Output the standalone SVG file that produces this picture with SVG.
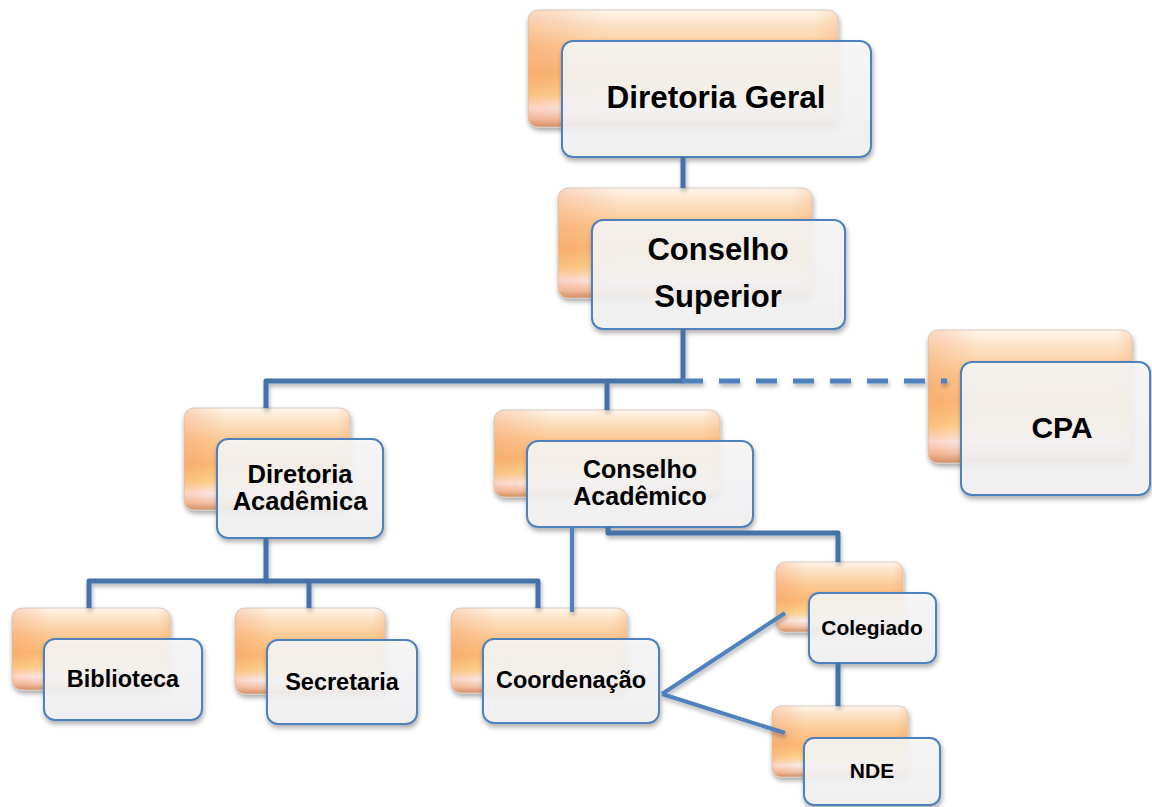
<svg xmlns="http://www.w3.org/2000/svg" width="1152" height="807" viewBox="0 0 1152 807">
  <defs>
    <linearGradient id="og" x1="0" y1="0" x2="0" y2="1">
      <stop offset="0" stop-color="#fef6ee"/>
      <stop offset="0.1" stop-color="#fde6cc"/>
      <stop offset="0.32" stop-color="#fcca96"/>
      <stop offset="0.55" stop-color="#fbbb78"/>
      <stop offset="0.72" stop-color="#fdd590"/>
      <stop offset="0.84" stop-color="#fdeff0"/>
      <stop offset="0.93" stop-color="#f3c6ae"/>
      <stop offset="1" stop-color="#c98e66"/>
    </linearGradient>
    <linearGradient id="oh" x1="0" y1="0" x2="1" y2="0">
      <stop offset="0" stop-color="#f38a50" stop-opacity="0.28"/>
      <stop offset="0.25" stop-color="#f38a50" stop-opacity="0"/>
      <stop offset="0.92" stop-color="#f38a50" stop-opacity="0"/>
      <stop offset="1" stop-color="#e8904e" stop-opacity="0.2"/>
    </linearGradient>
    <linearGradient id="wg" x1="0" y1="0" x2="0" y2="1">
      <stop offset="0" stop-color="#f8f8f8"/>
      <stop offset="1" stop-color="#f2f2f2"/>
    </linearGradient>
    <filter id="sh" x="-20%" y="-20%" width="140%" height="150%">
      <feDropShadow dx="1" dy="3" stdDeviation="2.5" flood-color="#000" flood-opacity="0.35"/>
    </filter>
    <filter id="lsh" x="-10%" y="-50%" width="120%" height="200%">
      <feDropShadow dx="1" dy="3" stdDeviation="2" flood-color="#000" flood-opacity="0.3"/>
    </filter>
  </defs>
  <style>
    .back { fill: url(#og); stroke: #d9ccc2; stroke-width: 1; filter: url(#sh); }
    .tint { fill: url(#oh); stroke: none; }
    .front { fill: url(#wg); fill-opacity: 0.88; stroke: #4f81bd; stroke-width: 2; filter: url(#sh); }
    .t { font-family: "Liberation Sans", Arial, sans-serif; font-weight: bold; fill: #000; text-anchor: middle; }
    .thick { fill: none; stroke: #4472a8; stroke-width: 5; stroke-linejoin: round; }
    .thin { fill: none; stroke: #4f81bd; stroke-width: 4; }
  </style>

  <g id="node-diretoria-geral">
    <rect class="back" x="528" y="10" width="310" height="117" rx="10"/>
    <rect class="tint" x="528" y="10" width="310" height="117" rx="10"/>
    <rect class="front" x="562" y="41" width="309" height="116" rx="11"/>
    <text class="t" x="716" y="108" font-size="31.5">Diretoria Geral</text>
  </g>

  <g id="node-conselho-superior">
    <rect class="back" x="558" y="188" width="254" height="110" rx="10"/>
    <rect class="tint" x="558" y="188" width="254" height="110" rx="10"/>
    <rect class="front" x="592" y="220" width="253" height="109" rx="11"/>
    <text class="t" x="718" y="260" font-size="31">Conselho</text>
    <text class="t" x="718" y="307" font-size="31">Superior</text>
  </g>

  <g id="node-cpa">
    <rect class="back" x="928" y="330" width="204" height="133" rx="10"/>
    <rect class="tint" x="928" y="330" width="204" height="133" rx="10"/>
    <rect class="front" x="961" y="362" width="189" height="133" rx="11"/>
    <text class="t" x="1062" y="438" font-size="30">CPA</text>
  </g>

  <g id="node-diretoria-academica">
    <rect class="back" x="184" y="408" width="166" height="102" rx="10"/>
    <rect class="tint" x="184" y="408" width="166" height="102" rx="10"/>
    <rect class="front" x="217" y="439" width="166" height="99" rx="11"/>
    <text class="t" x="300" y="483" font-size="25.5">Diretoria</text>
    <text class="t" x="300" y="510" font-size="25.5">Acadêmica</text>
  </g>

  <g id="node-conselho-academico">
    <rect class="back" x="494" y="410" width="226" height="87" rx="10"/>
    <rect class="tint" x="494" y="410" width="226" height="87" rx="10"/>
    <rect class="front" x="527" y="441" width="226" height="86" rx="11"/>
    <text class="t" x="640" y="478" font-size="25">Conselho</text>
    <text class="t" x="640" y="505" font-size="25">Acadêmico</text>
  </g>

  <g id="node-biblioteca">
    <rect class="back" x="12" y="608" width="158" height="82" rx="10"/>
    <rect class="tint" x="12" y="608" width="158" height="82" rx="10"/>
    <rect class="front" x="44" y="639" width="158" height="81" rx="11"/>
    <text class="t" x="123" y="687" font-size="23.5">Biblioteca</text>
  </g>

  <g id="node-secretaria">
    <rect class="back" x="235" y="608" width="150" height="86" rx="10"/>
    <rect class="tint" x="235" y="608" width="150" height="86" rx="10"/>
    <rect class="front" x="267" y="640" width="150" height="84" rx="11"/>
    <text class="t" x="342" y="690" font-size="23.5">Secretaria</text>
  </g>

  <g id="node-coordenacao">
    <rect class="back" x="451" y="608" width="176" height="85" rx="10"/>
    <rect class="tint" x="451" y="608" width="176" height="85" rx="10"/>
    <rect class="front" x="483" y="639" width="176" height="84" rx="11"/>
    <text class="t" x="571" y="688" font-size="23.5">Coordenação</text>
  </g>

  <g id="node-colegiado">
    <rect class="back" x="776" y="562" width="127" height="70" rx="9"/>
    <rect class="tint" x="776" y="562" width="127" height="70" rx="9"/>
    <rect class="front" x="809" y="593" width="127" height="70" rx="10"/>
    <text class="t" x="872" y="635" font-size="21">Colegiado</text>
  </g>

  <g id="node-nde">
    <rect class="back" x="772" y="706" width="136" height="71" rx="9"/>
    <rect class="tint" x="772" y="706" width="136" height="71" rx="9"/>
    <rect class="front" x="804" y="738" width="136" height="67" rx="10"/>
    <text class="t" x="872" y="778" font-size="21">NDE</text>
  </g>

  <g id="connectors" filter="url(#lsh)">
    <path class="thick" d="M683,157 V188"/>
    <path class="thick" d="M683,329 V381 H266 V408"/>
    <path class="thick" d="M607,381 V410"/>
    <path d="M682,381 H947" fill="none" stroke="#4f81bd" stroke-width="5" stroke-dasharray="21 16"/>
    <path class="thick" d="M266,538 V581 H89 V608"/>
    <path class="thick" d="M309,581 V608"/>
    <path class="thick" d="M266,581 H538 V608"/>
    <path class="thin" d="M572,527 V612" stroke-width="3.5"/>
    <path class="thick" d="M608,527 V533 H838 V562"/>
    <path class="thin" d="M662,694 L785,613"/>
    <path class="thin" d="M662,694 L785,733"/>
    <path class="thick" d="M838,663 V706"/>
  </g>
</svg>
